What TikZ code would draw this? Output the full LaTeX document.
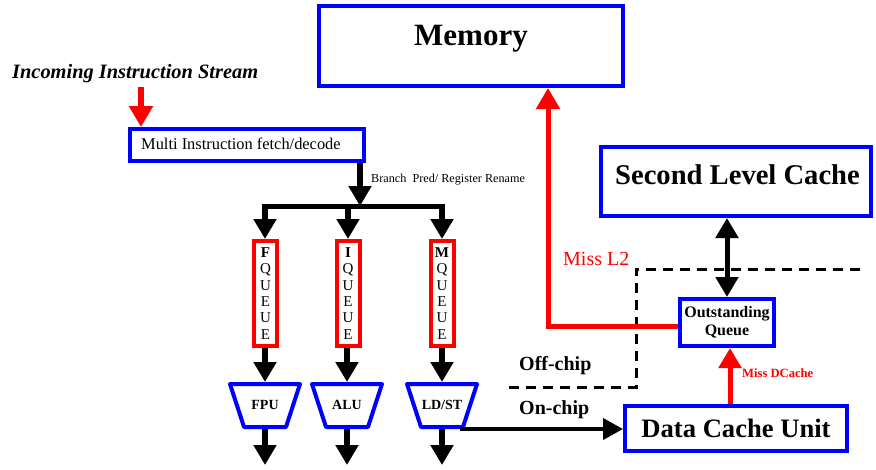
\documentclass[tikz,border=0pt]{standalone}
\usepackage{fontspec}
\setmainfont{Liberation Serif}
\usetikzlibrary{arrows.meta}
\newcommand{\fs}[1]{\fontsize{#1}{1.2\dimexpr#1pt\relax}\selectfont}
\begin{document}
\begin{tikzpicture}[x=1pt,y=-1pt,
  bluebox/.style={draw=blue, line width=4pt, inner sep=0pt, fill=white},
  queuebox/.style={draw=red, line width=4pt, fill=white, inner sep=0pt,
     minimum width=23pt, minimum height=105pt, align=center,
     font=\fontsize{15}{16.3}\selectfont},
  blkarrow/.style={line width=6pt, -{Triangle[length=20pt,width=22pt]}},
  blkdouble/.style={line width=5pt, {Triangle[length=20pt,width=22pt]}-{Triangle[length=20pt,width=22pt]}},
  redarrow/.style={draw=red, line width=5pt, -{Triangle[length=21pt,width=23pt]}},
  onchip/.style={line width=4pt, -{Triangle[length=20pt,width=21pt]}},
  trap/.style={draw=blue, line width=4pt, line join=round, fill=white},
  dashline/.style={line width=3pt, dash pattern=on 10pt off 7pt},
  lbl/.style={inner sep=0pt, anchor=base west},
  unitlbl/.style={inner sep=0pt, font=\fs{14}\bfseries}
]
\useasboundingbox (0,0) rectangle (876,469);

% Memory
\node[bluebox, minimum width=304pt, minimum height=80pt] (mem) at (471,46) {};
\node[inner sep=0pt, anchor=base, font=\fs{31}\bfseries] (memt) at (471,45) {Memory};

% Second level cache
\node[bluebox, minimum width=270pt, minimum height=69pt] (slc) at (736,181.5) {};
\node[inner sep=0pt, anchor=base, font=\fs{28.6}\bfseries] (slct) at (737.5,184) {Second Level Cache};

% Incoming instruction stream
\node[lbl, font=\fs{20.4}\bfseries\itshape] (inc) at (12,78) {Incoming Instruction Stream};
\coordinate (incS) at (141,87);

% Multi instruction fetch/decode
\node[bluebox, minimum width=234pt, minimum height=32pt] (mif) at (247,145) {};
\node[lbl, font=\fs{16.4}] (mift) at (141,149) {Multi Instruction fetch/decode};
\draw[draw=red, line width=6pt, -{Triangle[length=21pt,width=23pt]}] (incS) -- (incS |- mif.north);

% branch pred
\coordinate (busL) at (265,206);
\coordinate (busM) at (348,206);
\coordinate (busR) at (442,206);
\coordinate (busC) at (360,206);
\draw[blkarrow] (mif.south -| busC) -- (busC);
\node[lbl, font=\fs{12.2}] (bpr) at (371,182) {Branch\ \ Pred/ Register Rename};
\draw[line width=5pt] ([xshift=-2.5pt]busL) -- ([xshift=2.5pt]busR);

% Queues
\node[queuebox] (fq) at (265.5,293.5) {\textbf{F}\\Q\\U\\E\\U\\E};
\node[queuebox] (iq) at (348,293.5) {\textbf{I}\\Q\\U\\E\\U\\E};
\node[queuebox] (mq) at (442,293.5) {\textbf{M}\\Q\\U\\E\\U\\E};
\draw[blkarrow] ([yshift=2.5pt]busL) -- (fq.north -| busL);
\draw[blkarrow] ([yshift=2.5pt]busM) -- (iq.north -| busM);
\draw[blkarrow] ([yshift=2.5pt]busR) -- (mq.north -| busR);

% Trapezoids
\foreach \n/\cx in {fpu/265, alu/347, ldst/442}{
  \draw[trap] (\cx-35,384) -- (\cx+35,384) -- (\cx+21,427) -- (\cx-21,427) -- cycle;
  \coordinate (\n T) at (\cx,382);
  \coordinate (\n B) at (\cx,429);
  \coordinate (\n O) at (\cx,465);
}
\node[unitlbl] (fpu) at (265,405) {FPU};
\node[unitlbl] (alu) at (347,405) {ALU};
\node[unitlbl] (ldst) at (442,405) {LD/ST};
\draw[blkarrow] (fq.south -| fpuT) -- (fpuT);
\draw[blkarrow] (iq.south -| aluT) -- (aluT);
\draw[blkarrow] (mq.south -| ldstT) -- (ldstT);
\draw[blkarrow] (fpuB) -- (fpuO);
\draw[blkarrow] (aluB) -- (aluO);
\draw[blkarrow] (ldstB) -- (ldstO);

% Outstanding queue and data cache unit
\node[bluebox, minimum width=94pt, minimum height=47pt, align=center,
      font=\fontsize{16}{18}\selectfont\bfseries] (oq) at (727,322.5) {Outstanding\\Queue};
\node[bluebox, minimum width=222pt, minimum height=45pt,
      font=\fs{26.6}\bfseries] (dcu) at (736,428.5) {Data Cache Unit};

% On-chip connection
\coordinate (ldstR) at (460,429);
\draw[onchip] (ldstR) -- (dcu.west |- ldstR);

% Dashed chip boundary
\coordinate (d1) at (860,269);
\coordinate (d2) at (636,269);
\coordinate (d3) at (636,387);
\coordinate (d4) at (505,387);
\draw[dashline] (d1) -- (d2) -- (d3) -- (d4);

% Miss L2
\coordinate (l2x) at (548,0);
\draw[redarrow] ([yshift=-3.5pt]oq.west) -| (mem.south -| l2x);
\node[lbl, font=\fs{20}, text=red] (ml2) at (563,265) {Miss L2};

% SLC <-> OQ
\draw[blkdouble] (slc.south -| oq.north) -- (oq.north);

% Miss DCache
\draw[redarrow, -{Triangle[length=20pt,width=22pt]}] ([xshift=3pt]dcu.north -| oq.south) -- ([xshift=3pt]oq.south);
\node[lbl, font=\fs{12.6}\bfseries, text=red] (mdc) at (742,377) {Miss DCache};

% Off-chip / On-chip labels
\node[lbl, font=\fs{20}\bfseries] (offc) at (519,370) {Off-chip};
\node[lbl, font=\fs{20}\bfseries] (onc) at (519,414) {On-chip};
\end{tikzpicture}
\end{document}
